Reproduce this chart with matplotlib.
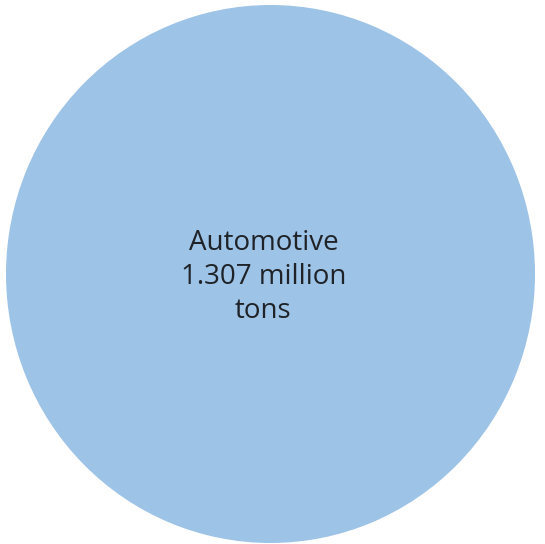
import matplotlib
matplotlib.use("Agg")
import matplotlib.pyplot as plt

# data
categories = ["Automotive"]
values = [1.307]
units = "million tons"

fig = plt.figure(figsize=(5.45, 5.44), dpi=100)
ax = fig.add_axes([6 / 545, 1 / 544, 529 / 545, 538 / 544])

ax.pie(values, colors=["#9dc3e6"], radius=1, startangle=90,
       wedgeprops={"linewidth": 0})
ax.set_aspect("auto")
ax.set_xlim(-1, 1)
ax.set_ylim(-1, 1)
ax.axis("off")

label = "%s\n%.3f %s" % (categories[0], values[0], units)
label = label.replace(" tons", "\ntons")
ax.text(-0.027, -0.012, label, ha="center", va="center", fontsize=20,
        family="Open Sans", color="#1f2328", linespacing=1.28)

fig.savefig("out.png", dpi=100, facecolor="white")
